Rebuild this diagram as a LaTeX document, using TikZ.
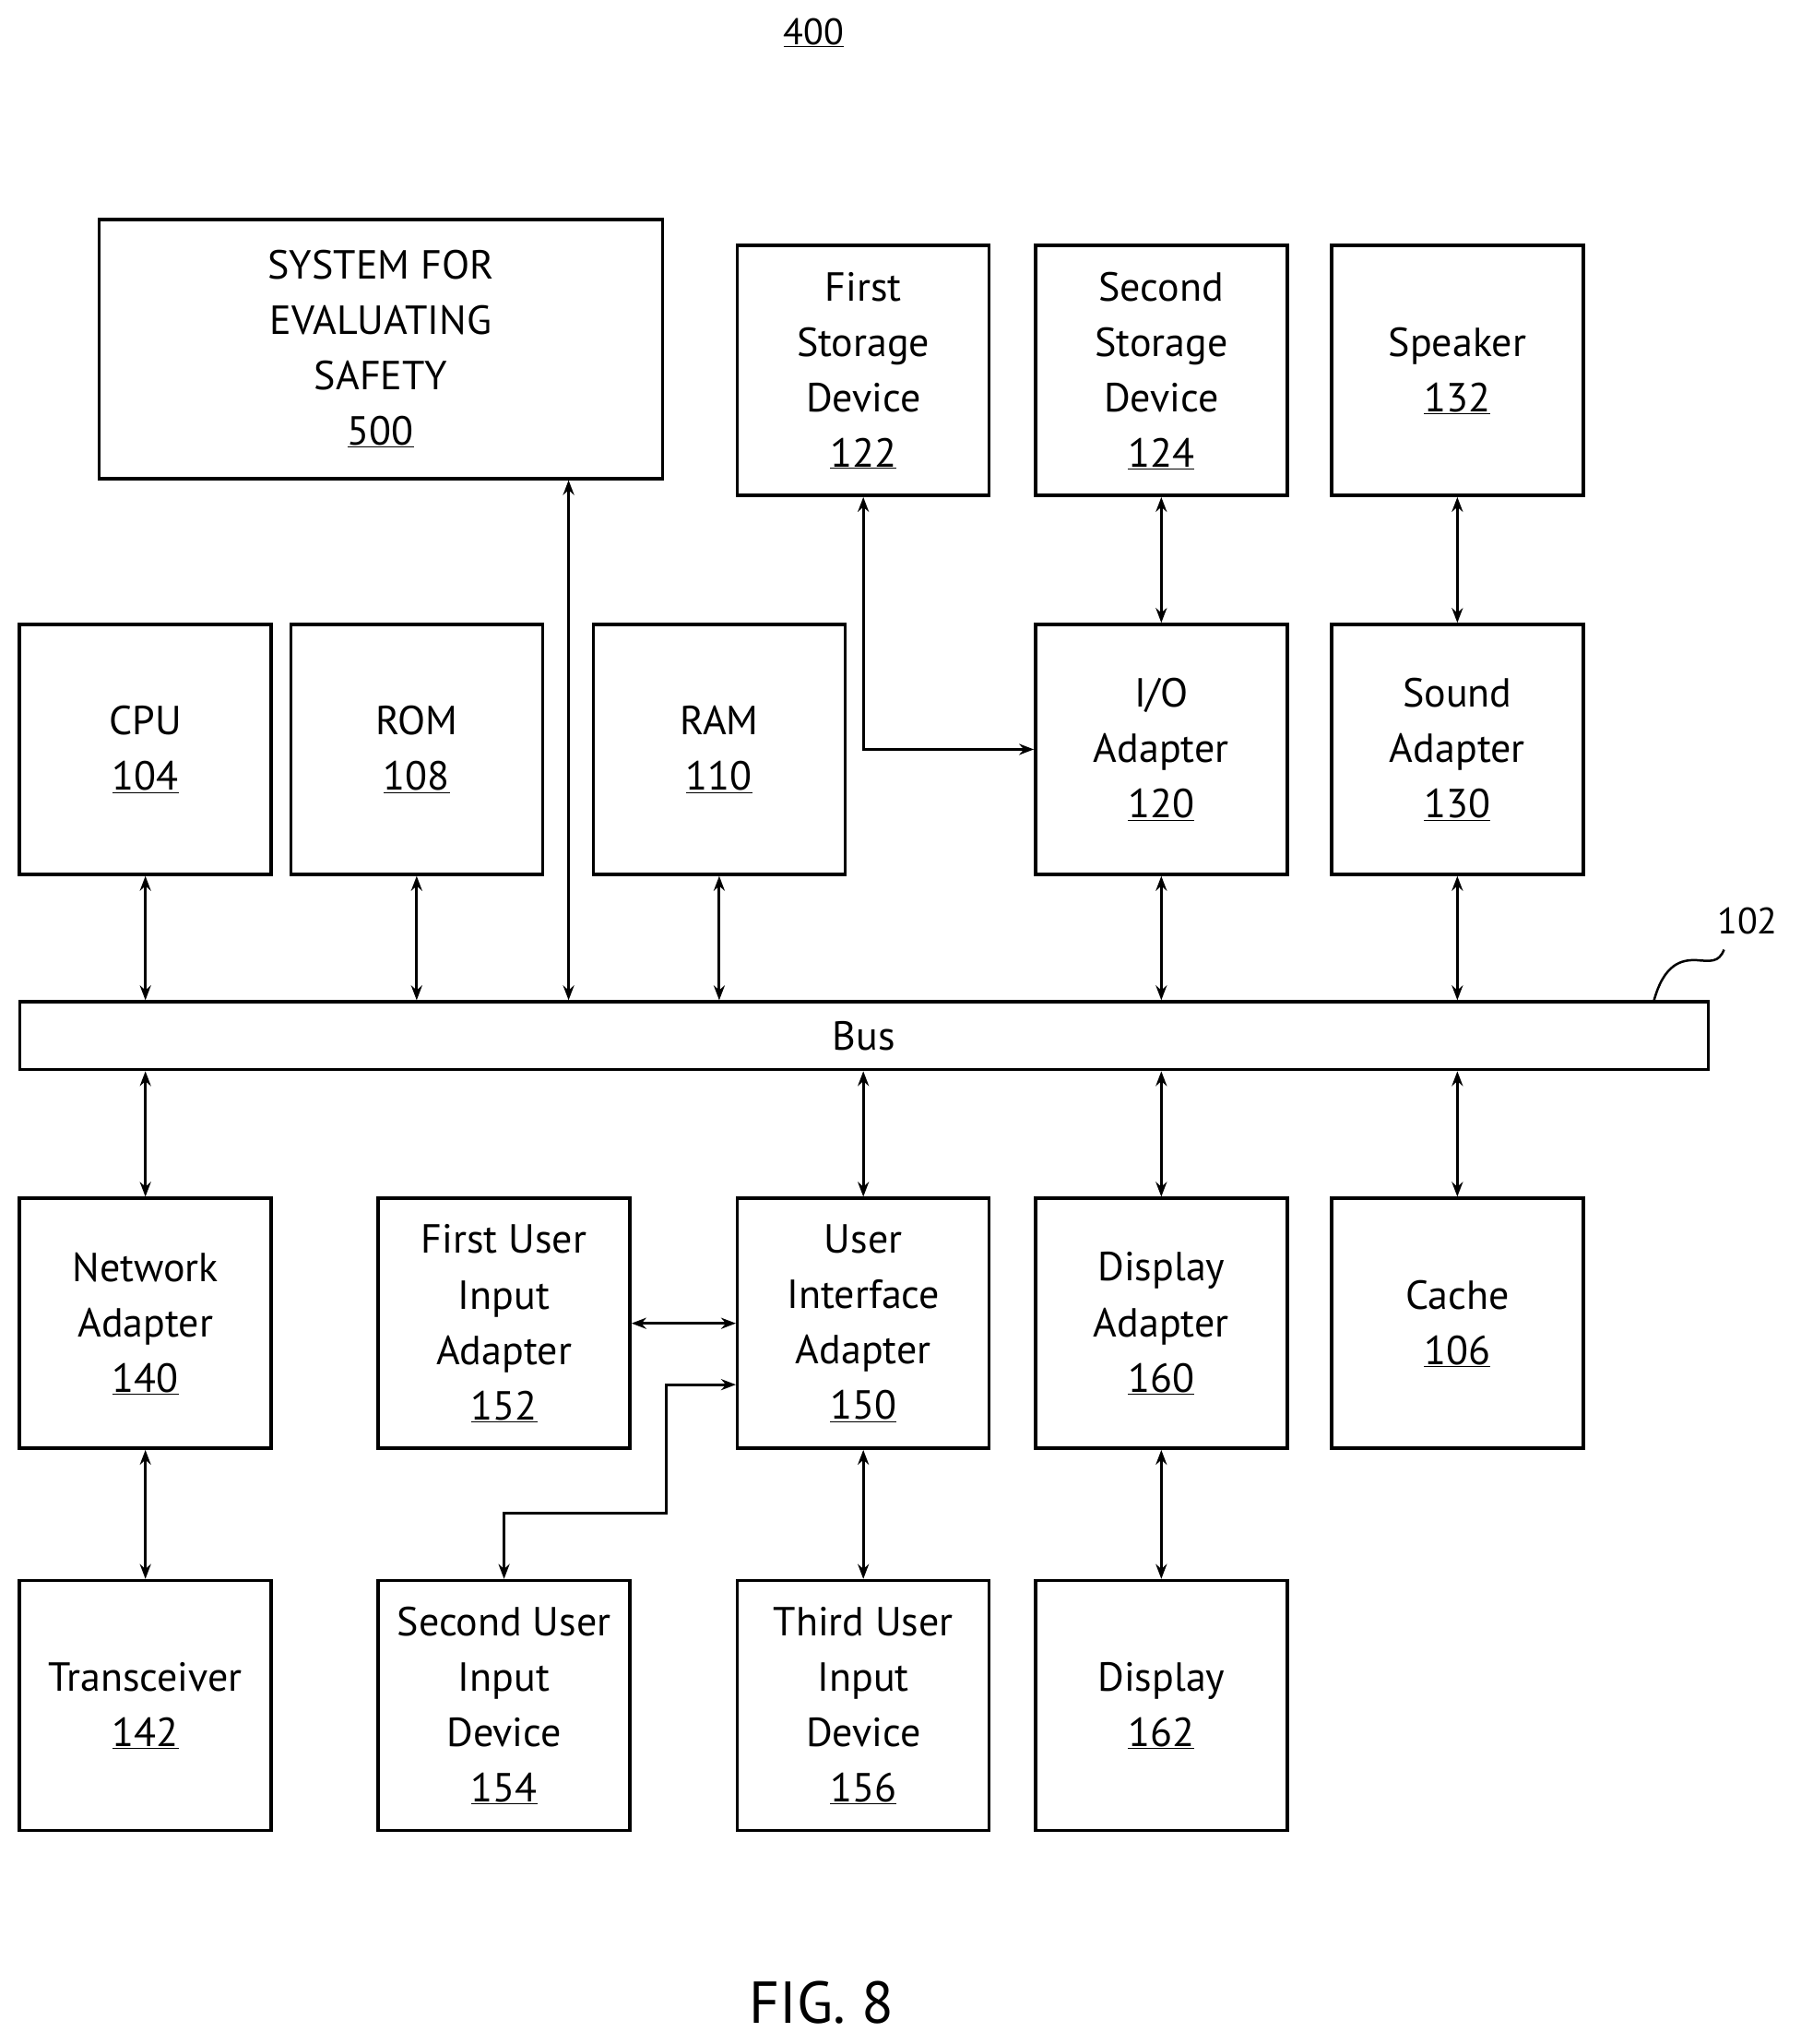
\documentclass[tikz,border=0pt]{standalone}
\usepackage{fontspec}
\setmainfont{PT Sans}
\usetikzlibrary{arrows.meta}
\newcommand{\refn}[1]{\underline{#1}}
\tikzstyle{block} = [align=center,draw=black,rectangle,line width=3.5pt,minimum width=272.9pt,minimum height=271pt,inner sep=0pt,font=\fontsize{44}{60}\selectfont]
\tikzstyle{link} = [line width=3pt,{Stealth[length=16pt,width=12pt]}-{Stealth[length=16pt,width=12pt]}]

\begin{document}
\begin{tikzpicture}[x=1.414pt,y=-1.414pt]
				\useasboundingbox (0,0) rectangle (1380.5,1567);
				\node (num) at (624,25) [font=\fontsize{40}{48}\selectfont] {\refn{400}};
				\node (fig) at (630,1535) [font=\fontsize{64}{70}\selectfont] {FIG. 8};
				\node (sys) at (292,267.5) [block,minimum width=611pt,minimum height=281pt] {SYSTEM FOR\\EVALUATING\\SAFETY\\\refn{500}};
				\node (st1) at (662,284) [block] {First\\Storage\\Device\\\refn{122}};
				\node (st2) at (890.5,284) [block] {Second\\Storage\\Device\\\refn{124}};
				\node (spk) at (1117.5,284) [block] {Speaker\\\refn{132}};
				\node (cpu) at (111.5,574.5) [block] {CPU\\\refn{104}};
				\node (rom) at (319.5,574.5) [block] {ROM\\\refn{108}};
				\node (ram) at (551.5,574.5) [block] {RAM\\\refn{110}};
				\node (io) at (890.5,574.5) [block] {I/O\\Adapter\\\refn{120}};
				\node (snd) at (1117.5,574.5) [block] {Sound\\Adapter\\\refn{130}};
				\node (bus) at (662.5,794) [block,minimum width=1831pt,minimum height=73.5pt] {Bus};
				\node (net) at (111.5,1014.5) [block] {Network\\Adapter\\\refn{140}};
				\node (fui) at (386.5,1014.5) [block] {First User\\Input\\Adapter\\\refn{152}};
				\node (ui) at (662,1014.5) [block] {User\\Interface\\Adapter\\\refn{150}};
				\node (dpa) at (890.5,1014.5) [block] {Display\\Adapter\\\refn{160}};
				\node (cch) at (1117.5,1014.5) [block] {Cache\\\refn{106}};
				\node (trx) at (111.5,1307.5) [block] {Transceiver\\\refn{142}};
				\node (sui) at (386.5,1307.5) [block] {Second User\\Input\\Device\\\refn{154}};
				\node (tui) at (662,1307.5) [block] {Third User\\Input\\Device\\\refn{156}};
				\node (dsp) at (890.5,1307.5) [block] {Display\\\refn{162}};
				\node (lbl) at (1340,706) [font=\fontsize{40}{48}\selectfont] {102};
				\coordinate (sysx) at (436,0);
				\draw [link] (cpu) -- (cpu |- bus.north);
				\draw [link] (rom) -- (rom |- bus.north);
				\draw [link] (ram) -- (ram |- bus.north);
				\draw [link] (sys.south -| sysx) -- (sysx |- bus.north);
				\draw [link] (io) -- (io |- bus.north);
				\draw [link] (snd) -- (snd |- bus.north);
				\draw [link] (st2) -- (io);
				\draw [link] (spk) -- (snd);
				\draw [link] (st1) |- (io.west);
				\draw [link] (net) -- (net |- bus.south);
				\draw [link] (ui) -- (ui |- bus.south);
				\draw [link] (dpa) -- (dpa |- bus.south);
				\draw [link] (cch) -- (cch |- bus.south);
				\draw [link] (net) -- (trx);
				\draw [link] (ui) -- (tui);
				\draw [link] (dpa) -- (dsp);
				\draw [link] (fui.east) -- (fui.east -| ui.west);
				\draw [link] (sui.north) |- (511,1160) |- ([yshift=-47*1.414pt]ui.west);
				\draw [line width=2.5pt] (1268,768) .. controls (1276,738) and (1290,736) .. (1300,736) .. controls (1312,737) and (1318,738) .. (1322,728);
			\end{tikzpicture}
\end{document}
